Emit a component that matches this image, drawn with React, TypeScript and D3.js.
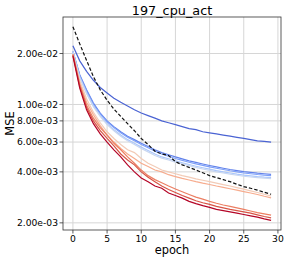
import React, { useEffect, useRef } from 'react'
import * as d3 from 'd3'

const epochs = [0, 1, 2, 3, 4, 5, 6, 7, 8, 9, 10, 11, 12, 13, 14, 15, 16, 17, 18, 19, 20, 21, 22, 23, 24, 25, 26, 27, 28, 29]

const seriesColors = ['#4a63d3', '#6282ea', '#7da0f9', '#a9c6fd', '#c9d7f0', '#f2cbb7', '#f7ac8e', '#ec7f63', '#d75445', '#b40426']

const seriesValues = [
  [0.0222, 0.0181, 0.0157, 0.0139, 0.0126, 0.0117, 0.0109, 0.0103, 0.0098, 0.0093, 0.0089, 0.0086, 0.0083, 0.0080, 0.0078, 0.0076, 0.0074, 0.0072, 0.0071, 0.0069, 0.0068, 0.0067, 0.0066, 0.0065, 0.0064, 0.0063, 0.0062, 0.0061, 0.00605, 0.0060],
  [0.0206, 0.0150, 0.0122, 0.0102, 0.0089, 0.0080, 0.0074, 0.0069, 0.0065, 0.0062, 0.0059, 0.00565, 0.0054, 0.0052, 0.00505, 0.0049, 0.00477, 0.00465, 0.00455, 0.00445, 0.00436, 0.00428, 0.0042, 0.00413, 0.00407, 0.00401, 0.00397, 0.00393, 0.0039, 0.00387],
  [0.0205, 0.0148, 0.0120, 0.0100, 0.0088, 0.0079, 0.0073, 0.0068, 0.0064, 0.0061, 0.0058, 0.00555, 0.0053, 0.0051, 0.00495, 0.0048, 0.00468, 0.00456, 0.00446, 0.00437, 0.00428, 0.0042, 0.00413, 0.00406, 0.004, 0.00394, 0.0039, 0.00386, 0.00383, 0.0038],
  [0.0204, 0.0145, 0.0117, 0.0098, 0.0086, 0.0077, 0.0071, 0.0066, 0.0062, 0.0059, 0.0056, 0.00535, 0.0051, 0.0049, 0.00478, 0.00465, 0.00453, 0.00442, 0.00432, 0.00423, 0.00415, 0.00407, 0.004, 0.00394, 0.00388, 0.00383, 0.00379, 0.00375, 0.00372, 0.0037],
  [0.0205, 0.0144, 0.0116, 0.0097, 0.0085, 0.0076, 0.0070, 0.0065, 0.0061, 0.0058, 0.0055, 0.00525, 0.0050, 0.00482, 0.0047, 0.00457, 0.00446, 0.00435, 0.00425, 0.00416, 0.00408, 0.004, 0.00394, 0.00388, 0.00382, 0.00377, 0.00373, 0.0037, 0.00367, 0.00365],
  [0.0199, 0.0138, 0.0108, 0.0090, 0.0078, 0.0069, 0.0063, 0.0058, 0.0054, 0.0052, 0.0048, 0.0045, 0.0043, 0.0041, 0.0040, 0.0039, 0.0038, 0.00372, 0.00364, 0.00357, 0.0035, 0.00343, 0.00336, 0.0033, 0.00323, 0.00316, 0.00309, 0.00302, 0.00295, 0.00288],
  [0.0196, 0.0133, 0.0103, 0.0087, 0.0075, 0.0066, 0.0060, 0.0055, 0.0051, 0.0048, 0.0045, 0.0043, 0.0041, 0.0040, 0.00385, 0.00375, 0.00366, 0.00358, 0.0035, 0.00343, 0.00337, 0.0033, 0.00324, 0.00318, 0.00312, 0.00306, 0.003, 0.00294, 0.00287, 0.00281],
  [0.0198, 0.0131, 0.0099, 0.0083, 0.0073, 0.0066, 0.0059, 0.0054, 0.0049, 0.0045, 0.0041, 0.0038, 0.0036, 0.00345, 0.0033, 0.00317, 0.00305, 0.00294, 0.00284, 0.00276, 0.00268, 0.00261, 0.00255, 0.0025, 0.00245, 0.0024, 0.00235, 0.0023, 0.00226, 0.00222],
  [0.0196, 0.0128, 0.0096, 0.0080, 0.0070, 0.0063, 0.0057, 0.0051, 0.0047, 0.0044, 0.0040, 0.00372, 0.0035, 0.0033, 0.00315, 0.00302, 0.0029, 0.0028, 0.0027, 0.00263, 0.00257, 0.0025, 0.00245, 0.0024, 0.00236, 0.00232, 0.00228, 0.00223, 0.00218, 0.00214],
  [0.0193, 0.0125, 0.0093, 0.0077, 0.0067, 0.0060, 0.0054, 0.0049, 0.0044, 0.0040, 0.00368, 0.0035, 0.0033, 0.0032, 0.0030, 0.0029, 0.0028, 0.00268, 0.0026, 0.00253, 0.00247, 0.0024, 0.00236, 0.00232, 0.00228, 0.00224, 0.0022, 0.00216, 0.00211, 0.00207],
]

// black dashed reference run
const baselineValues = [0.0288, 0.0228, 0.0182, 0.0146, 0.0122, 0.0106, 0.0094, 0.0085, 0.0077, 0.0070, 0.0063, 0.0058, 0.0053, 0.0051, 0.0050, 0.0046, 0.0044, 0.00425, 0.0041, 0.00395, 0.0038, 0.0037, 0.0036, 0.0035, 0.00338, 0.00327, 0.0032, 0.00312, 0.00303, 0.00295]

const xTicks = [0, 5, 10, 15, 20, 25, 30]
const yTicks = [0.002, 0.004, 0.006, 0.008, 0.01, 0.02]
const yTickLabels = ['2.00e-03', '4.00e-03', '6.00e-03', '8.00e-03', '1.00e-02', '2.00e-02']

const title = '197_cpu_act'
const xLabel = 'epoch'
const yLabel = 'MSE'

export default function App() {
  const svgRef = useRef<SVGSVGElement>(null)

  useEffect(() => {
    if (!svgRef.current) return

    const width = 289
    const height = 262
    const margin = { top: 17, right: 8, bottom: 32, left: 63 }
    const font = 'DejaVu Sans, sans-serif'

    const svg = d3.select(svgRef.current)
    svg.selectAll('*').remove()

    const allValues = [...seriesValues.flat(), ...baselineValues]
    const [lo, hi] = d3.extent(allValues) as [number, number]
    const logPad = (Math.log10(hi) - Math.log10(lo)) * 0.05
    const xPad = (epochs[epochs.length - 1] - epochs[0]) * 0.05

    const xScale = d3.scaleLinear()
      .domain([epochs[0] - xPad, epochs[epochs.length - 1] + xPad])
      .range([margin.left, width - margin.right])
    const yScale = d3.scaleLog()
      .domain([Math.pow(10, Math.log10(lo) - logPad), Math.pow(10, Math.log10(hi) + logPad)])
      .range([height - margin.bottom, margin.top])

    const x0 = margin.left
    const x1 = width - margin.right
    const y0 = height - margin.bottom
    const y1 = margin.top

    // Grid
    xTicks.forEach(t => {
      svg.append('line')
        .attr('x1', xScale(t)).attr('x2', xScale(t))
        .attr('y1', y1).attr('y2', y0)
        .attr('stroke', '#d6d6d6').attr('stroke-width', 1)
    })
    yTicks.forEach(t => {
      svg.append('line')
        .attr('x1', x0).attr('x2', x1)
        .attr('y1', yScale(t)).attr('y2', yScale(t))
        .attr('stroke', '#d6d6d6').attr('stroke-width', 1)
    })

    const plot = svg.append('g')
    const line = d3.line<number>()
      .x((_, i) => xScale(epochs[i]))
      .y(d => yScale(d))

    seriesValues.forEach((vals, i) => {
      plot.append('path')
        .attr('d', line(vals) as string)
        .attr('fill', 'none')
        .attr('stroke', seriesColors[i])
        .attr('stroke-width', 1.2)
    })

    plot.append('path')
      .attr('d', line(baselineValues) as string)
      .attr('fill', 'none')
      .attr('stroke', '#111')
      .attr('stroke-width', 1.2)
      .attr('stroke-dasharray', '3.5,2')

    // Frame
    svg.append('rect')
      .attr('x', x0).attr('y', y1)
      .attr('width', x1 - x0).attr('height', y0 - y1)
      .attr('fill', 'none')
      .attr('stroke', '#333')
      .attr('stroke-width', 0.8)

    // Ticks
    xTicks.forEach(t => {
      svg.append('line')
        .attr('x1', xScale(t)).attr('x2', xScale(t))
        .attr('y1', y0).attr('y2', y0 + 3.5)
        .attr('stroke', '#333').attr('stroke-width', 0.8)
      svg.append('text')
        .attr('x', xScale(t))
        .attr('y', y0 + 11.5)
        .attr('text-anchor', 'middle')
        .attr('font-family', font)
        .attr('font-size', '9.2px')
        .attr('fill', '#000')
        .text(String(t))
    })
    yTicks.forEach((t, i) => {
      svg.append('line')
        .attr('x1', x0 - 3.5).attr('x2', x0)
        .attr('y1', yScale(t)).attr('y2', yScale(t))
        .attr('stroke', '#333').attr('stroke-width', 0.8)
      svg.append('text')
        .attr('x', x0 - 5)
        .attr('y', yScale(t))
        .attr('dy', '0.35em')
        .attr('text-anchor', 'end')
        .attr('font-family', font)
        .attr('font-size', '9.2px')
        .attr('fill', '#000')
        .text(yTickLabels[i])
    })

    // Labels
    svg.append('text')
      .attr('x', (x0 + x1) / 2)
      .attr('y', 14.5)
      .attr('text-anchor', 'middle')
      .attr('font-family', font)
      .attr('font-size', '12.8px')
      .attr('fill', '#000')
      .text(title)

    svg.append('text')
      .attr('x', (x0 + x1) / 2)
      .attr('y', 254)
      .attr('text-anchor', 'middle')
      .attr('font-family', font)
      .attr('font-size', '11.4px')
      .attr('fill', '#000')
      .text(xLabel)

    svg.append('text')
      .attr('transform', `translate(14, ${(y0 + y1) / 2}) rotate(-90)`)
      .attr('text-anchor', 'middle')
      .attr('font-family', font)
      .attr('font-size', '11.4px')
      .attr('fill', '#000')
      .text(yLabel)
  }, [])

  return (
    <svg
      ref={svgRef}
      width={289}
      height={262}
      style={{ position: 'absolute', left: 0, top: 0, background: '#fff' }}
    />
  )
}
